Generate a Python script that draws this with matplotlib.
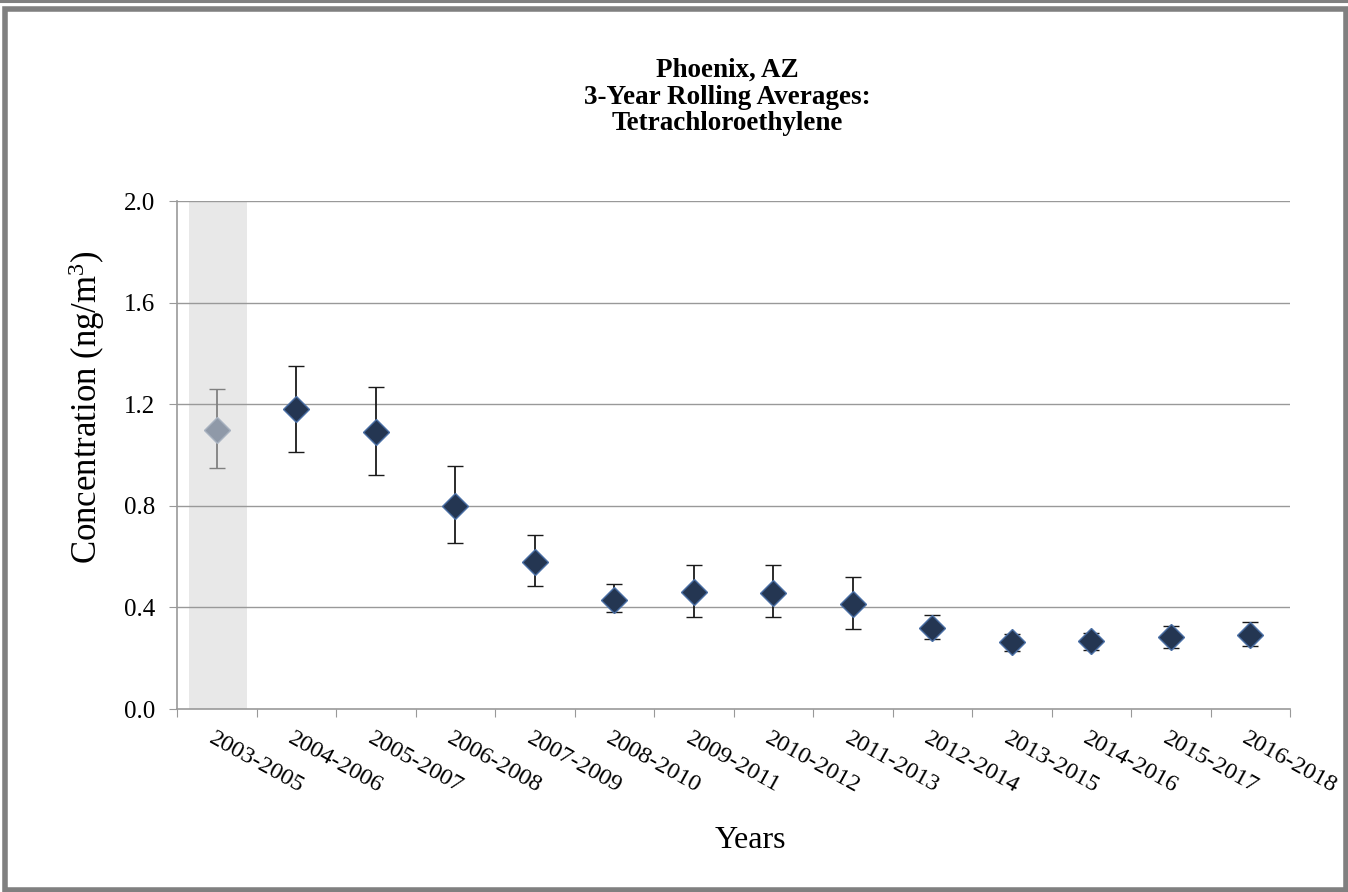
import matplotlib
matplotlib.use("Agg")
import matplotlib.pyplot as plt
from matplotlib.patches import Rectangle
import numpy as np

categories = ["2003-2005", "2004-2006", "2005-2007", "2006-2008", "2007-2009",
              "2008-2010", "2009-2011", "2010-2012", "2011-2013", "2012-2014",
              "2013-2015", "2014-2016", "2015-2017", "2016-2018"]
means = [1.10, 1.18, 1.09, 0.80, 0.58, 0.43, 0.46, 0.457, 0.413, 0.32, 0.262, 0.267, 0.283, 0.291]
upper = [1.26, 1.35, 1.268, 0.957, 0.685, 0.492, 0.567, 0.565, 0.52, 0.372, 0.295, 0.299, 0.327, 0.343]
lower = [0.949, 1.012, 0.921, 0.654, 0.484, 0.382, 0.362, 0.362, 0.315, 0.276, 0.228, 0.232, 0.24, 0.248]
yticks = [0.0, 0.4, 0.8, 1.2, 1.6, 2.0]

plt.rcParams['font.family'] = ['Liberation Serif', 'DejaVu Serif']
plt.rcParams['mathtext.fontset'] = 'custom'
plt.rcParams['mathtext.rm'] = 'Liberation Serif'
plt.rcParams['mathtext.it'] = 'Liberation Serif:italic'

fig = plt.figure(figsize=(13.48, 8.92), dpi=100)
ax = fig.add_axes([177/1348, 1 - 709/892, 1113/1348, 508/892])

x = np.arange(len(categories))
ax.set_xlim(-0.5, len(categories) - 0.5)
ax.set_ylim(0, 2.0)

# grey band for first (incomplete) period
ax.axvspan(-0.35, 0.38, color='#e8e8e8', zorder=0, lw=0)

for yv in yticks[1:]:
    ax.axhline(yv, color='#999999', lw=1.0, zorder=1)

m = np.array(means); u = np.array(upper); l = np.array(lower)
err = np.vstack([m - l, u - m])

ax.errorbar(x[:1], m[:1], yerr=err[:, :1], fmt='D', ms=13, color='#8f99a8',
            mec='#a8b2c0', mew=1, ecolor='#808080', elinewidth=1.3, capsize=6,
            capthick=1.3, zorder=3)
ax.errorbar(x[1:], m[1:], yerr=err[:, 1:], fmt='D', ms=13, color='#243652',
            mec='#4a6fa5', mew=1, ecolor='#1a1a1a', elinewidth=1.3, capsize=6,
            capthick=1.3, zorder=3)

for s in ['top', 'right']:
    ax.spines[s].set_visible(False)
for s in ['left', 'bottom']:
    ax.spines[s].set_color('#999999')
    ax.spines[s].set_linewidth(1.2)

ax.set_yticks(yticks)
ax.set_yticklabels([f"{v:.1f}" for v in yticks], fontsize=18)
ax.tick_params(axis='y', direction='out', length=6, color='#999999', pad=10)

ax.set_xticks(np.arange(len(categories) + 1) - 0.5)
ax.set_xticklabels([])
ax.tick_params(axis='x', direction='out', length=6, color='#999999')
for i, c in enumerate(categories):
    ax.text(i - 0.02, -0.075, c, rotation=-29, rotation_mode='anchor',
            ha='left', va='top', fontsize=17.5, transform=ax.transData)

fig.text(87/1348, 1 - 407/892, "Concentration (ng/m$^3$)", rotation=90,
         ha='center', va='center', fontsize=25)

fig.text(750/1348, 1 - 840/892, "Years", ha='center', va='center', fontsize=23)
fig.text(727/1348, 1 - 97/892, "Phoenix, AZ\n3-Year Rolling Averages:\nTetrachloroethylene",
         ha='center', va='center', fontsize=19.5, fontweight='bold', linespacing=1.08)

# outer frame
fig.patches.append(Rectangle((5/1348, 2/892), 1 - 7/1348, 1 - 11/892, transform=fig.transFigure,
                             fill=False, edgecolor='#808080', lw=4))
fig.patches.append(Rectangle((0, 1 - 1.5/892), 1, 0.5/892, transform=fig.transFigure,
                             fill=False, edgecolor='#808080', lw=1.5))

fig.savefig("out.png", dpi=100)
